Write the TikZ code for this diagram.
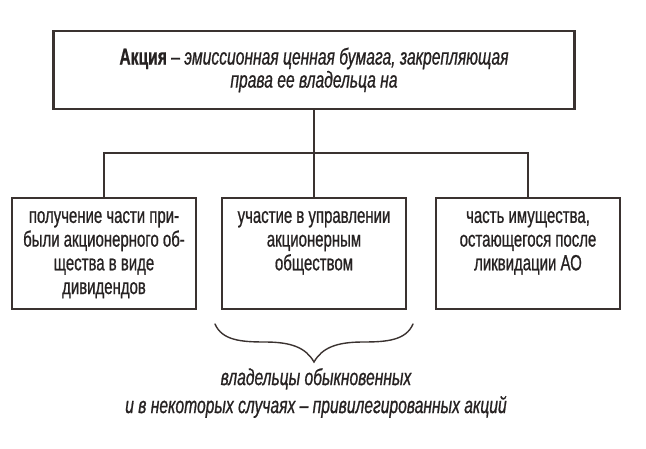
\documentclass[tikz,border=0pt]{standalone}
\usepackage{fontspec}
\setmainfont{Liberation Sans}[FakeStretch=0.68,FakeBold=0.8]
\usetikzlibrary{positioning}
\definecolor{ramka}{RGB}{58,50,48}
\definecolor{tekst}{RGB}{38,34,34}

\begin{document}
\begin{tikzpicture}[x=1pt,y=-1pt,
		verh/.style={draw=ramka,line width=2.4pt,minimum width=521pt,minimum height=78pt,
			align=center,text=tekst,font=\fontsize{23}{23}\selectfont},
		blok/.style={draw=ramka,line width=1.8pt,inner sep=0pt,anchor=north,text=tekst,
			font=\fontsize{22}{23.7}\selectfont},
		liniya/.style={draw=ramka,line width=1.3pt},
		skobka/.style={draw=ramka,line width=1.4pt,line cap=round}]
	\useasboundingbox (0,0) rectangle (646,448);
	% definition
	\node[verh] (akcia) at (314,70) {\textbf{Акция} -- \textit{эмиссионная ценная бумага, закрепляющая}\\\textit{права ее владельца на}};
	% three rights
	\foreach \nm/\x/\txt in {dohod/104/{получение части при-\\были акционерного об-\\щества в виде\\дивидендов},
			upravl/314/{участие в управлении\\акционерным\\обществом},
			imush/528/{часть имущества,\\остающегося после\\ликвидации АО}}{
		\node[blok] (\nm) at (\x,197) {\parbox[t][111pt][t]{184pt}{\centering\rule{0pt}{25pt}\txt}};
	}
	% connectors
	\coordinate (razv) at (314,153);
	\draw[liniya] (akcia.south) -- (razv);
	\draw[liniya] (dohod.north) |- (razv);
	\draw[liniya] (imush.north) |- (razv);
	\draw[liniya] (upravl.north) -- (razv);
	% brace
	\draw[skobka] (215,324) .. controls (222,340) and (240,342) .. (265,342)
		.. controls (292,342) and (306,348) .. (314,362)
		.. controls (322,348) and (336,342) .. (363,342)
		.. controls (388,342) and (406,340) .. (413,324);
	% owners
	\node[align=center,text=tekst,font=\fontsize{23}{28}\selectfont\itshape] (vladelcy) at (316,393)
		{владельцы обыкновенных\\и в некоторых случаях -- привилегированных акций};
\end{tikzpicture}
\end{document}
